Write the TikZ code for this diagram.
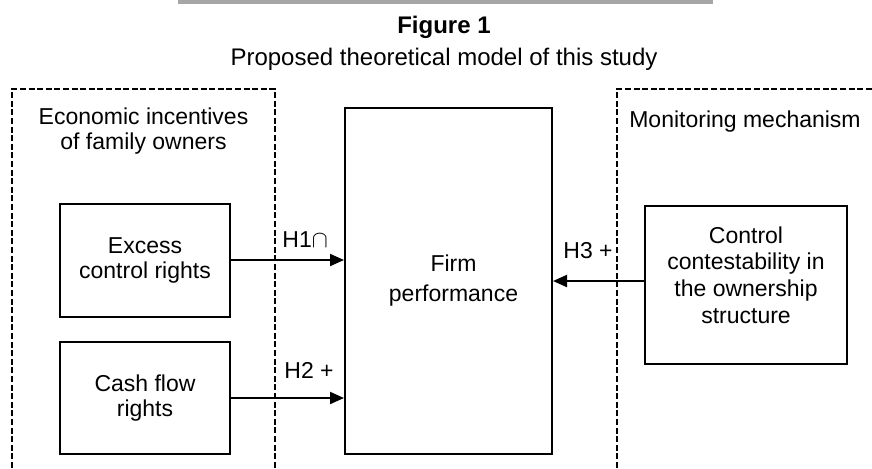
\documentclass[tikz,border=0pt]{standalone}
\usepackage{fontspec}
\setmainfont{Liberation Sans}
\usetikzlibrary{arrows.meta}
\definecolor{rulegray}{HTML}{A6A6A6}
\tikzstyle{box}=[
        draw,
        line width=1pt,
        align=center
]
\tikzstyle{group}=[
        line width=1pt,
        dash pattern=on 3pt off 1.3pt
]
\tikzstyle{effect}=[
        line width=1pt,
        -{Triangle[length=7pt,width=6pt]}
]
\tikzstyle{hyp}=[
        anchor=base west,
        inner sep=0pt
]

\begin{document}
\begin{tikzpicture}[x=0.5pt,y=-0.5pt,font=\fontsize{11.5}{12.5}\selectfont]
                        \useasboundingbox (0,0) rectangle (872,468);

                        \fill[rulegray] (178,0) rectangle (713,3.5);
                        \node[anchor=base, font=\fontsize{12}{13}\selectfont\bfseries] (fig) at (444,33) {Figure 1};
                        \node[anchor=base, font=\fontsize{12}{13}\selectfont] (caption) at (444,65) {Proposed theoretical model of this study};

                        \draw[group] (12,468) -- (12,89) -- (275,89) -- (275,468);
                        \draw[group] (617,468) -- (617,89) -- (872,89);
                        \node[align=center] (incentives) at (143.5,131) {Economic incentives\\of family owners};
                        \node[anchor=base] (monitoring) at (745,127) {Monitoring mechanism};

                        \node[box, minimum width=85pt, minimum height=56.5pt] (excess) at (145,260) {Excess\\control rights};
                        \node[box, minimum width=85pt, minimum height=56pt] (cash) at (145,398) {Cash flow\\rights};
                        \node[box, minimum width=103.5pt, minimum height=173pt, font=\fontsize{11.5}{15}\selectfont] (firm) at (448.5,281) {\hspace*{5pt}Firm\\\hspace*{5pt}performance};
                        \node[box, minimum width=101pt, minimum height=79pt] (ctrl) at (746,285) {};
                        \node[align=center, font=\fontsize{11.5}{13.3}\selectfont] (ctrltext) at ([yshift=5pt]ctrl.center) {Control\\contestability in\\the ownership\\structure};

                        \draw[effect] (excess.east) -- (excess.east -| firm.west);
                        \draw[effect] (cash.east) -- (cash.east -| firm.west);
                        \draw[effect] (firm.east -| ctrl.west) -- (firm.east);

                        \node[hyp] (h1) at (282,247) {H1$\cap$};
                        \node[hyp] (h2) at (284,378) {H2 +};
                        \node[hyp] (h3) at (563,258) {H3 +};
\end{tikzpicture}
\end{document}
